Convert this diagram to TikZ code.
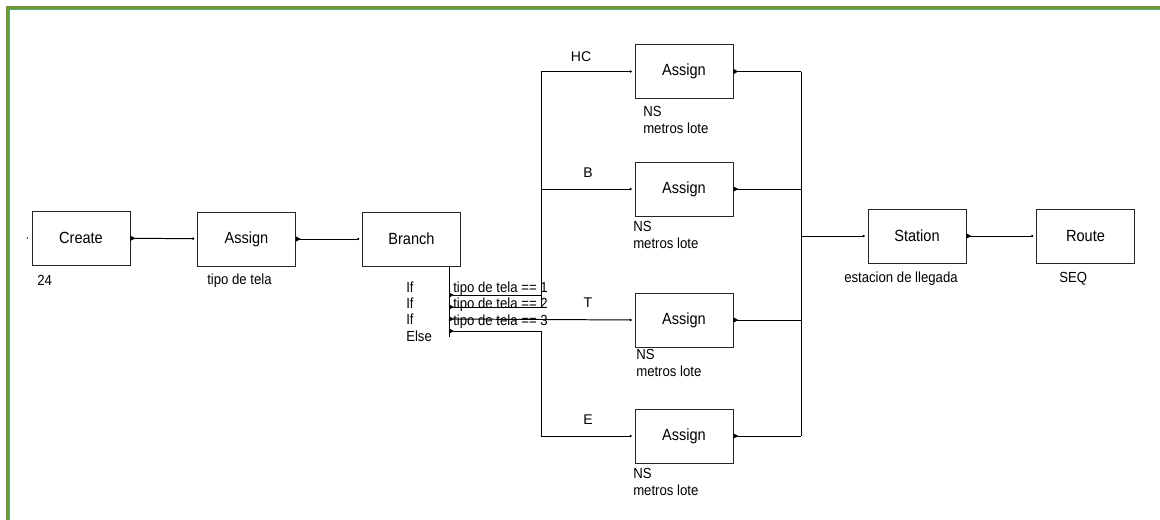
\documentclass[tikz,border=0pt]{standalone}
\usepackage{fontspec}
\setmainfont{Liberation Sans}[FakeStretch=0.9]
\newfontfamily\pathfont{Liberation Sans}
\usetikzlibrary{arrows.meta,positioning}
\definecolor{frameolive}{RGB}{116,148,62}
\definecolor{framegreen}{RGB}{76,178,110}

\begin{document}
\begin{tikzpicture}[x=0.025cm, y=-0.025cm,
  module/.style={draw=black!85, line width=0.6pt, minimum width=2.45cm,
    minimum height=1.35cm, inner sep=0pt, font=\fontsize{11.5}{13}\selectfont},
  note/.style={anchor=base west, inner sep=0pt, align=left,
    font=\fontsize{10.4}{11.4}\selectfont},
  pathlbl/.style={inner sep=0pt, font=\pathfont\fontsize{10}{12}\selectfont},
  wire/.style={line width=0.7pt},
  outflow/.style={wire, {Triangle[reversed,length=3.5pt,width=3.5pt]}-},
  inflow/.style={wire, -{Circle[length=1.6pt]}, shorten >=2pt},
  flow/.style={wire, {Triangle[reversed,length=3.5pt,width=3.5pt]}-{Circle[length=1.6pt]}, shorten >=2pt}]
  \useasboundingbox (0,0) rectangle (1160,520);

  % page frame
  \draw[frameolive, line width=2pt] (7.5,520) -- (7.5,7.5) -- (1160,7.5);
  \draw[framegreen, line width=0.4pt] (9,520) -- (9,9) -- (1160,9);

  % main line of modules
  \node[module] (create) at (81,238) {Create};
  \node[module] (tela) at (246.5,239) {Assign};
  \node[module] (branch) at (411.5,239) {Branch};
  \node[module] (station) at (917,236) {Station};
  \node[module] (route) at (1085.5,236) {Route};

  % one Assign per fabric type
  \node[module] (hcA) at (684,71.5) {Assign};
  \node[module] (bA) at (684,189) {Assign};
  \node[module] (tA) at (684,320) {Assign};
  \node[module] (eA) at (684,436) {Assign};

  % entry point of Create (nothing comes in)
  \fill ([xshift=-3pt]create.west) circle (0.6pt);

  \draw[flow] (create) -- (tela);
  \draw[flow] (tela) -- (branch);
  \draw[flow] (station) -- (route);

  % branch exits
  \coordinate (b1) at (449,295);
  \coordinate (b2) at (449,307);
  \coordinate (b3) at (449,319);
  \coordinate (b4) at (449,331);
  \coordinate (split) at (541,300);
  \coordinate (join) at (801,236);
  \draw[wire] (branch.south -| b1) -- ([yshift=-4pt]b4);

  \draw[flow] (b1) -- (b1 -| split) |- (hcA.west);
  \draw[flow] (b2) -- (b2 -| split) |- (bA.west);
  \draw[flow] (b3) -- (tA.west);
  \draw[flow] (b4) -- (b4 -| split) |- (eA.west);

  % back together into Station
  \draw[outflow] (hcA.east) -- (hcA.east -| join);
  \draw[outflow] (bA.east) -- (bA.east -| join);
  \draw[outflow] (tA.east) -- (tA.east -| join);
  \draw[outflow] (eA.east) -- (eA.east -| join);
  \draw[wire] (hcA.east -| join) -- (eA.east -| join);
  \draw[inflow] (join) -- (station);

  % path labels
  \node[pathlbl] (lhc) at (581,57) {HC};
  \node[pathlbl] (lb) at (588,173) {B};
  \node[pathlbl] (lt) at (588,303) {T};
  \node[pathlbl] (le) at (588,420) {E};

  % module notes (anchored at the last baseline)
  \node[note] (n24) at (37,285) {24};
  \node[note] (ntela) at (207,284) {tipo de tela};
  \node[note] (nif) at (406,341) {If\\If\\If\\Else};
  \node[note] (ntest) at (453,325) {tipo de tela == 1\\tipo de tela == 2\\tipo de tela == 3};
  \node[note] (nhc) at (643,133) {NS\\metros lote};
  \node[note] (nb) at (633,248) {NS\\metros lote};
  \node[note] (nt) at (636,376) {NS\\metros lote};
  \node[note] (ne) at (633,495) {NS\\metros lote};
  \node[note] (nst) at (844,282) {estacion de llegada};
  \node[note] (nrt) at (1059,282) {SEQ};
\end{tikzpicture}
\end{document}
